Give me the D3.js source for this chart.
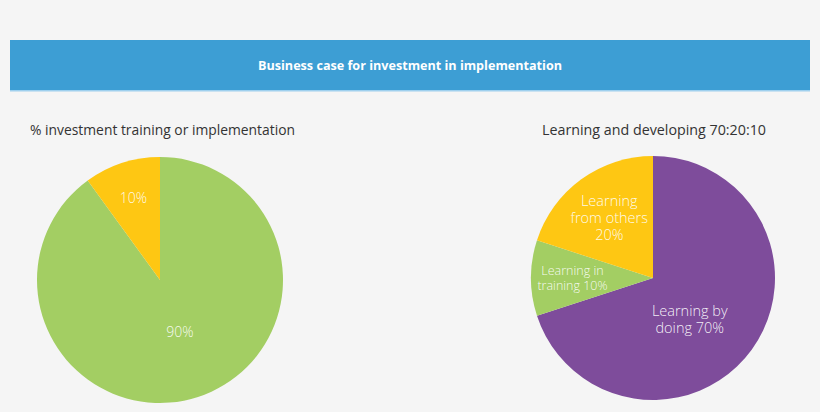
<!DOCTYPE html>
<html>
<head>
<meta charset="utf-8">
<script src="https://cdn.jsdelivr.net/npm/d3@7"></script>
<style>
  html, body { margin: 0; padding: 0; background: #f5f5f5; }
  svg { display: block; }
</style>
</head>
<body>
<svg id="chart" width="820" height="412"></svg>
<script>
// ---- data ----
const chartTitle = "Business case for investment in implementation";
const leftTitle = "% investment training or implementation";
const rightTitle = "Learning and developing 70:20:10";

const leftCategories = ["Implementation", "Training"];
const leftValues = [90, 10];
const leftLabels = [["90%"], ["10%"]];
const leftColors = ["#a3ce63", "#fec713"];

const rightCategories = ["Learning by doing", "Learning in training", "Learning from others"];
const rightValues = [70, 10, 20];
const rightLabels = [["Learning by", "doing 70%"], ["Learning in", "training 10%"], ["Learning", "from others", "20%"]];
const rightColors = ["#7e4c9b", "#a3ce63", "#fec713"];

// ---- drawing ----
const svg = d3.select("#chart");
const W = 820, H = 412;

svg.append("rect").attr("width", W).attr("height", H).attr("fill", "#f5f5f5");

// banner
svg.append("rect").attr("x", 10).attr("y", 40).attr("width", 800).attr("height", 51).attr("fill", "#3d9ed4");
svg.append("rect").attr("x", 10).attr("y", 90).attr("width", 800).attr("height", 1.5).attr("fill", "#9fd0ee");
svg.append("text")
  .attr("x", 410).attr("y", 69.5)
  .attr("text-anchor", "middle")
  .attr("font-family", "'Open Sans', sans-serif")
  .attr("font-weight", 700)
  .attr("font-size", 13)
  .attr("fill", "#ffffff")
  .attr("textLength", 304).attr("lengthAdjust", "spacingAndGlyphs")
  .text(chartTitle);

// subtitles
svg.append("text")
  .attr("x", 30).attr("y", 135)
  .attr("font-family", "'Open Sans', sans-serif")
  .attr("font-size", 14.5)
  .attr("fill", "#333333")
  .attr("textLength", 265).attr("lengthAdjust", "spacingAndGlyphs")
  .text(leftTitle);
svg.append("text")
  .attr("x", 542).attr("y", 135)
  .attr("font-family", "'Open Sans', sans-serif")
  .attr("font-size", 14.5)
  .attr("fill", "#333333")
  .attr("textLength", 224).attr("lengthAdjust", "spacingAndGlyphs")
  .text(rightTitle);

function drawPie(opts) {
  const { cx, cy, r, values, labels, colors, fracFn, angleShiftFn, fontSizeFn, lineH } = opts;
  const pie = d3.pie().sort(null).value(d => d)(values);
  const arc = d3.arc().innerRadius(0).outerRadius(r);
  const g = svg.append("g").attr("transform", `translate(${cx},${cy})`);
  g.selectAll("path.slice").data(pie).join("path")
    .attr("class", "slice")
    .attr("d", arc)
    .attr("fill", (d, i) => colors[i]);
  const total = d3.sum(values);
  pie.forEach((d, i) => {
    const share = d.value / total;
    const rad = r * fracFn(share);
    const mid = (d.startAngle + d.endAngle) / 2 + angleShiftFn(share) * Math.PI / 180;
    const x = rad * Math.sin(mid), y = -rad * Math.cos(mid);
    const fs = fontSizeFn(share);
    const lines = labels[i];
    const lh = lineH(fs);
    const t = g.append("text")
      .attr("text-anchor", "middle")
      .attr("font-family", "'Open Sans', sans-serif")
      .attr("font-weight", 300)
      .attr("font-size", fs)
      .attr("fill", "#ffffff")
      .attr("fill-opacity", 0.92);
    lines.forEach((ln, k) => {
      t.append("tspan")
        .attr("x", x)
        .attr("y", y + (k - (lines.length - 1) / 2) * lh + fs * 0.36)
        .text(ln);
    });
  });
}

drawPie({
  cx: 160, cy: 280, r: 123,
  values: leftValues, labels: leftLabels, colors: leftColors,
  fracFn: s => s >= 0.5 ? 0.45 : 0.70,
  angleShiftFn: s => s >= 0.5 ? -3 : 0,
  fontSizeFn: () => 14, lineH: fs => fs * 1.2
});
drawPie({
  cx: 653, cy: 278, r: 122,
  values: rightValues, labels: rightLabels, colors: rightColors,
  fracFn: s => s >= 0.5 ? 0.45 : (s <= 0.1 ? 0.66 : 0.61),
  angleShiftFn: s => s >= 0.5 ? 12 : 0,
  fontSizeFn: s => s <= 0.1 ? 12.5 : 14.5, lineH: fs => fs * 1.17
});
</script>
</body>
</html>
